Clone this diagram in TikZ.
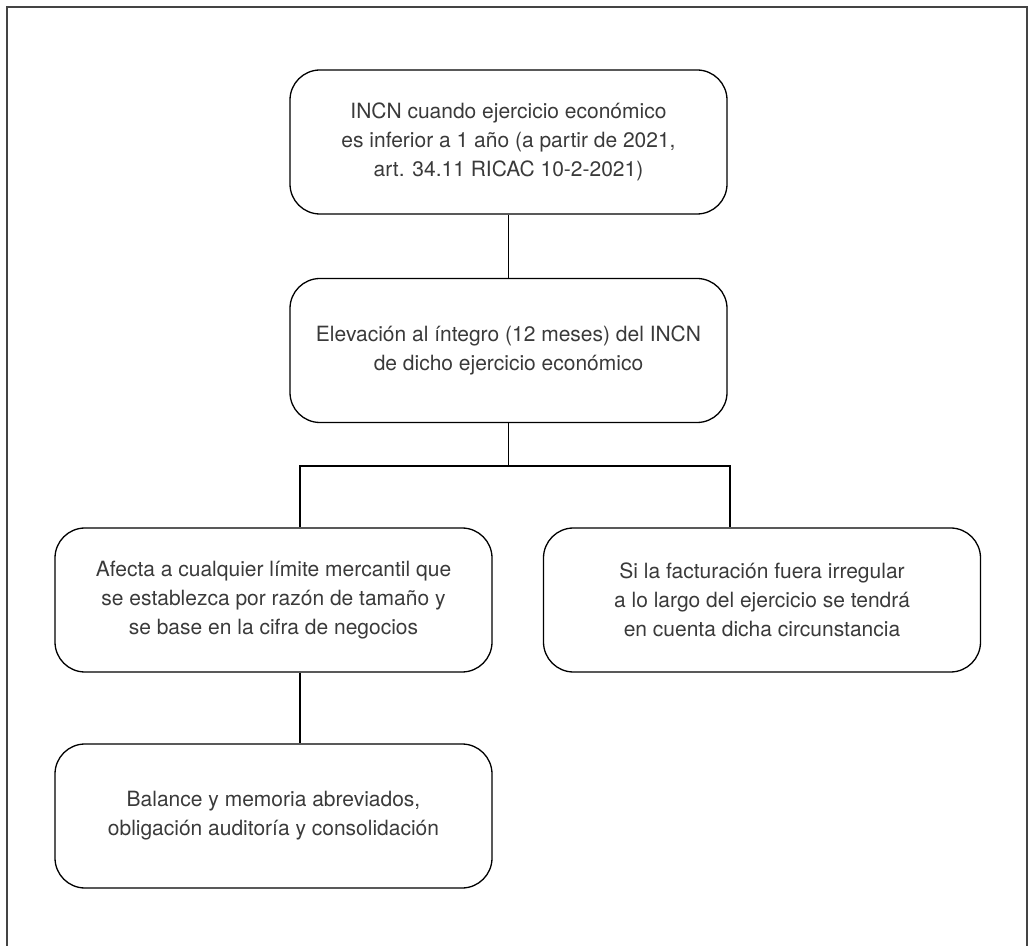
\documentclass[tikz,border=0pt]{standalone}
\usepackage{fontspec}
\setmainfont{TeX Gyre Heros}
\definecolor{textogris}{HTML}{3A3A3A}
\definecolor{marcogris}{HTML}{444444}
\tikzset{caja/.style={draw=black, line width=0.65pt, rounded corners=15pt, minimum width=218.5pt, minimum height=72pt, align=center, inner sep=0pt, text=textogris, font=\fontsize{10.5}{14.6}\selectfont}}
\begin{document}
\begin{tikzpicture}[x=0.5pt,y=-0.5pt]
\useasboundingbox (0,0) rectangle (1029,946);
\draw[marcogris, line width=1pt] (7,946)--(7,7)--(1027,7)--(1027,946);

\node[caja] (incn) at (508.5,142) {INCN cuando ejercicio económico\\es inferior a 1 año (a partir de 2021,\\art. 34.11 RICAC 10-2-2021)};
\node[caja] (elev) at (508.5,350.5) {Elevación al íntegro (12 meses) del INCN\\de dicho ejercicio económico};
\node[caja] (afecta) at (273.5,600) {Afecta a cualquier límite mercantil que\\se establezca por razón de tamaño y\\se base en la cifra de negocios};
\node[caja] (factura) at (762,600) {Si la facturación fuera irregular\\a lo largo del ejercicio se tendrá\\en cuenta dicha circunstancia};
\node[caja] (balance) at (273.5,816) {Balance y memoria abreviados,\\obligación auditoría y consolidación};

\coordinate (ramaI) at (300,466);
\coordinate (ramaD) at (730,466);

\draw[line width=0.65pt] (incn)--(elev);
\draw[line width=0.65pt] (elev.south)--(elev.south |- ramaI);
\draw[line width=0.65pt] (afecta.north -| ramaI)--(ramaI)--(ramaD)--(factura.north -| ramaD);
\draw[line width=0.65pt] (afecta.south -| ramaI)--(balance.north -| ramaI);

\end{tikzpicture}
\end{document}
